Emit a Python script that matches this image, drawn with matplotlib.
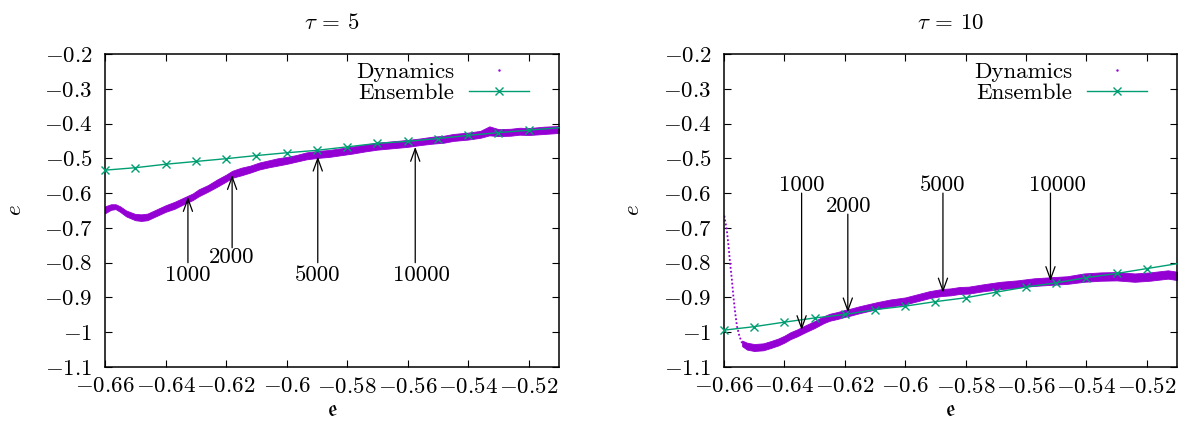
import matplotlib

matplotlib.use("Agg")
import matplotlib.pyplot as plt  # noqa: E402
from matplotlib.lines import Line2D  # noqa: E402
from matplotlib.ticker import MultipleLocator, FuncFormatter  # noqa: E402

plt.rcParams.update({
    "font.family": "serif",
    "font.serif": ["cmr10", "DejaVu Serif"],
    "mathtext.fontset": "cm",
    "axes.unicode_minus": False,
    "font.size": 16.5,
})

VIOLET = "#9400d3"
GREEN = "#009e73"

# ensemble curve (same x grid for both panels)
ENS_X = [-0.66, -0.65, -0.64, -0.63, -0.62, -0.61, -0.60, -0.59,
         -0.58, -0.57, -0.56, -0.55, -0.54, -0.53, -0.52, -0.51]
ENS5_Y = [-0.534, -0.527, -0.517, -0.509, -0.501, -0.492, -0.484, -0.477,
          -0.467, -0.457, -0.451, -0.443, -0.434, -0.426, -0.419, -0.412]
ENS10_Y = [-0.994, -0.984, -0.971, -0.959, -0.949, -0.935, -0.925, -0.912,
           -0.901, -0.885, -0.870, -0.858, -0.843, -0.831, -0.817, -0.803]

# dynamics cloud, tau = 5 (lower / upper envelope of the point band)
DYN5_X = [-0.6600, -0.6580, -0.6565, -0.6550, -0.6530, -0.6500, -0.6480, -0.6460,
          -0.6440, -0.6420, -0.6400, -0.6370, -0.6340, -0.6310, -0.6290, -0.6260,
          -0.6230, -0.6200, -0.6180, -0.6150, -0.6120, -0.6090, -0.6060, -0.6030,
          -0.6000, -0.5970, -0.5935, -0.5900, -0.5860, -0.5820, -0.5780, -0.5740,
          -0.5700, -0.5650, -0.5600, -0.5560, -0.5520, -0.5480, -0.5450, -0.5400,
          -0.5360, -0.5330, -0.5300, -0.5260, -0.5230, -0.5200, -0.5150, -0.5100]
DYN5_LO = [-0.658, -0.648, -0.646, -0.654, -0.667, -0.678, -0.680, -0.678,
           -0.670, -0.662, -0.654, -0.645, -0.632, -0.620, -0.609, -0.596,
           -0.582, -0.567, -0.556, -0.549, -0.541, -0.532, -0.526, -0.521,
           -0.516, -0.510, -0.503, -0.499, -0.496, -0.491, -0.486, -0.480,
           -0.475, -0.471, -0.467, -0.462, -0.458, -0.455, -0.450, -0.446,
           -0.441, -0.434, -0.436, -0.435, -0.432, -0.433, -0.430, -0.427]
DYN5_HI = [-0.638, -0.632, -0.632, -0.638, -0.650, -0.660, -0.661, -0.659,
           -0.651, -0.643, -0.635, -0.625, -0.613, -0.601, -0.589, -0.577,
           -0.561, -0.547, -0.536, -0.527, -0.521, -0.512, -0.506, -0.500,
           -0.496, -0.491, -0.483, -0.479, -0.476, -0.471, -0.466, -0.460,
           -0.455, -0.451, -0.447, -0.443, -0.438, -0.435, -0.430, -0.426,
           -0.421, -0.408, -0.416, -0.415, -0.412, -0.413, -0.409, -0.407]

# dynamics, tau = 10: sparse initial drop, then the dense band
DROP10_X = [-0.6599, -0.6595, -0.6591, -0.6585, -0.6580, -0.6574,
            -0.6569, -0.6563, -0.6557, -0.6549, -0.6540]
DROP10_Y = [-0.665, -0.685, -0.704, -0.752, -0.800, -0.848,
            -0.896, -0.944, -0.983, -1.011, -1.032]
DYN10_X = [-0.6540, -0.6524, -0.6500, -0.6470, -0.6447, -0.6420, -0.6400, -0.6380,
           -0.6358, -0.6330, -0.6300, -0.6270, -0.6250, -0.6225, -0.6200, -0.6180,
           -0.6150, -0.6120, -0.6090, -0.6050, -0.6000, -0.5960, -0.5920, -0.5880,
           -0.5850, -0.5820, -0.5790, -0.5740, -0.5684, -0.5630, -0.5574, -0.5520,
           -0.5463, -0.5408, -0.5353, -0.5300, -0.5240, -0.5190, -0.5130, -0.5100]
DYN10_LO = [-1.040, -1.050, -1.054, -1.052, -1.046, -1.038, -1.030, -1.020,
            -1.012, -1.000, -0.988, -0.974, -0.967, -0.962, -0.956, -0.952,
            -0.945, -0.939, -0.933, -0.926, -0.920, -0.911, -0.902, -0.896,
            -0.894, -0.890, -0.889, -0.882, -0.876, -0.872, -0.867, -0.864,
            -0.861, -0.855, -0.852, -0.851, -0.855, -0.852, -0.846, -0.850]
DYN10_HI = [-1.024, -1.030, -1.034, -1.032, -1.026, -1.018, -1.010, -1.000,
            -0.992, -0.980, -0.968, -0.954, -0.947, -0.942, -0.936, -0.932,
            -0.925, -0.919, -0.913, -0.906, -0.900, -0.891, -0.882, -0.876,
            -0.874, -0.870, -0.869, -0.862, -0.855, -0.851, -0.845, -0.842,
            -0.839, -0.831, -0.828, -0.827, -0.831, -0.828, -0.822, -0.826]

# annotated times
ARR_LABELS = ["1000", "2000", "5000", "10000"]
ARR5_X = [-0.6326, -0.6180, -0.5897, -0.5575]
ARR5_HEAD = [-0.611, -0.548, -0.495, -0.467]
ARR5_TAIL = [-0.800, -0.757, -0.800, -0.800]
LAB5_X = [-0.6326, -0.6180, -0.5897, -0.5555]
LAB5_Y = [-0.8365, -0.7856, -0.8365, -0.8365]

ARR10_X = [-0.6343, -0.6190, -0.5875, -0.5519]
ARR10_HEAD = [-0.994, -0.943, -0.886, -0.853]
ARR10_TAIL = [-0.600, -0.6606, -0.600, -0.600]
LAB10_X = [-0.6343, -0.6188, -0.5875, -0.5497]
LAB10_Y = [-0.576, -0.6385, -0.576, -0.576]

W, H = 1181, 434


def panel(ax, title, ens_y, dyn_x, dyn_lo, dyn_hi, arr_x, arr_head, arr_tail,
          lab_x, lab_y):
    ax.fill_between(dyn_x, dyn_lo, dyn_hi, color=VIOLET, lw=0.6, zorder=2)
    ax.plot(ENS_X, ens_y, color=GREEN, lw=1.0, marker="x", ms=6, mew=1.0,
            markevery=range(len(ENS_X) - 1), clip_on=False, zorder=3)
    for lab, x, yh, yt, lx, ly in zip(ARR_LABELS, arr_x, arr_head, arr_tail,
                                      lab_x, lab_y):
        ax.annotate("", xy=(x, yh), xytext=(x, yt),
                    arrowprops=dict(arrowstyle="->,head_length=0.55,head_width=0.2",
                                    color="black", lw=0.9, shrinkA=0, shrinkB=0),
                    zorder=4)
        ax.text(lx, ly, lab, ha="center", va="center", zorder=4)

    ax.set_xlim(-0.66, -0.51)
    ax.set_ylim(-1.1, -0.2)
    ax.xaxis.set_major_locator(MultipleLocator(0.02))
    ax.yaxis.set_major_locator(MultipleLocator(0.1))
    fmt = FuncFormatter(lambda v, _: f"${v:g}$")
    ax.xaxis.set_major_formatter(fmt)
    ax.yaxis.set_major_formatter(fmt)
    ax.tick_params(direction="in", top=True, right=True, length=5, width=0.8,
                   labelsize=16.5)
    ax.tick_params(axis="x", pad=7)
    ax.tick_params(axis="y", pad=9)
    for sp in ax.spines.values():
        sp.set_linewidth(1.1)

    ax.set_title(title, pad=18, fontsize=16.5)
    ax.set_ylabel("$e$")
    ax.yaxis.label.set_va("center")
    ax.set_xlabel(r"$\mathfrak{e}$")
    ax.xaxis.label.set_va("center")
    ax.xaxis.set_label_coords(0.5, -43 / 313)

    handles = [Line2D([], [], ls="none", marker=".", ms=1.5, color=VIOLET),
               Line2D([], [], color=GREEN, lw=1.0, marker="x", ms=6, mew=1.0)]
    ax.legend(handles, ["Dynamics", "Ensemble"], loc="upper right",
              bbox_to_anchor=(1 - 30 / 454, 1 - 8 / 313), borderaxespad=0,
              borderpad=0, frameon=False, markerfirst=False, handlelength=2.6,
              handletextpad=0.65, labelspacing=0.05, fontsize=16.5)


fig = plt.figure(figsize=(W / 100, H / 100), dpi=100)
ax1 = fig.add_axes([105 / W, 67 / H, 454 / W, 313 / H])
ax2 = fig.add_axes([724 / W, 67 / H, 453 / W, 313 / H])

panel(ax1, r"$\tau$ = 5", ENS5_Y, DYN5_X, DYN5_LO, DYN5_HI,
      ARR5_X, ARR5_HEAD, ARR5_TAIL, LAB5_X, LAB5_Y)
ax1.yaxis.set_label_coords(-90 / 454, 0.5)

ax2.plot(DROP10_X, DROP10_Y, color=VIOLET, lw=1.3, ls=(0, (1, 1.2)), zorder=2)
panel(ax2, r"$\tau$ = 10", ENS10_Y, DYN10_X, DYN10_LO, DYN10_HI,
      ARR10_X, ARR10_HEAD, ARR10_TAIL, LAB10_X, LAB10_Y)
ax2.yaxis.set_label_coords(-91 / 453, 0.5)

fig.savefig("out.png", dpi=100)
